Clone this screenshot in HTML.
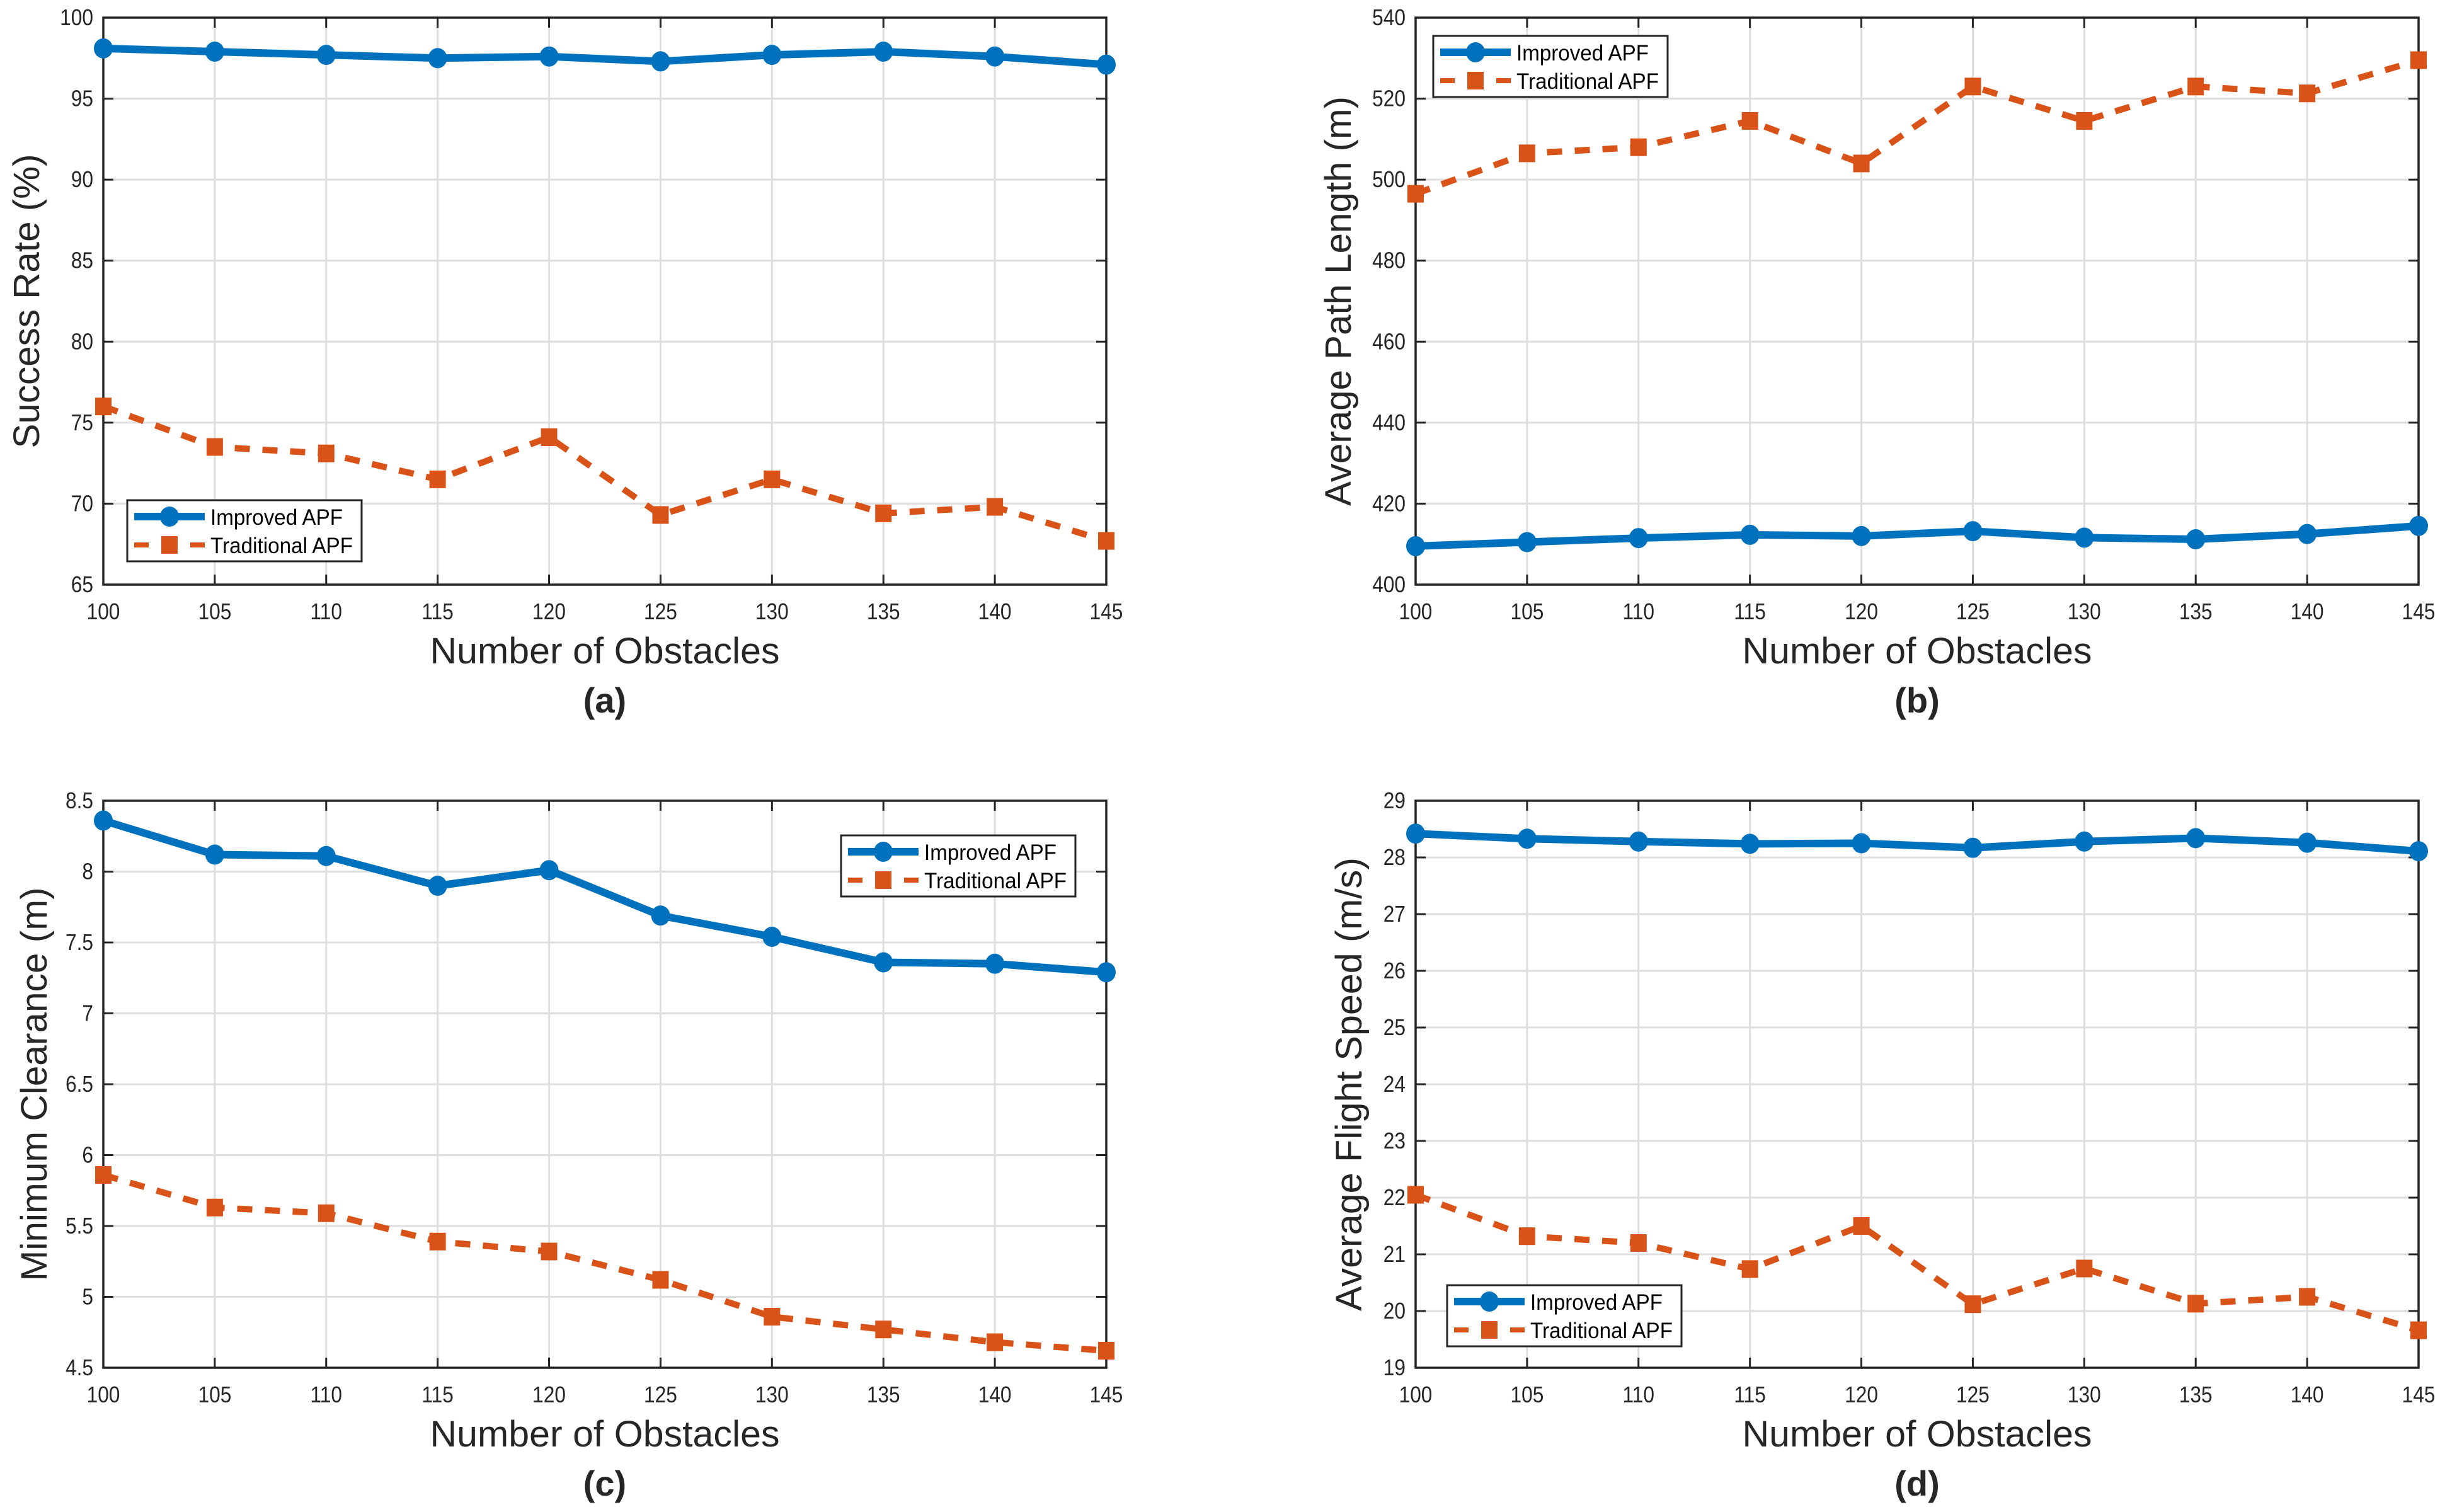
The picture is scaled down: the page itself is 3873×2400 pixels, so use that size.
<!DOCTYPE html>
<html><head><meta charset="utf-8"><style>
html,body{margin:0;padding:0;background:#fff;}
svg{display:block;}
text{font-family:"Liberation Sans",sans-serif;fill:#262626;}
</style></head><body>
<svg id="fig" width="3873" height="2400" viewBox="0 0 3873 2400" xmlns="http://www.w3.org/2000/svg"></svg>
<script>
const categories = [100,105,110,115,120,125,130,135,140,145];
const improvedA = [98.1,97.9,97.7,97.5,97.6,97.3,97.7,97.9,97.6,97.1];
const traditionalA = [76,73.5,73.1,71.5,74.1,69.3,71.5,69.4,69.8,67.7];
const improvedB = [409.5,410.5,411.5,412.3,412,413.2,411.6,411.2,412.5,414.5];
const traditionalB = [496.5,506.5,508,514.5,504,523,514.5,523,521.3,529.5];
const improvedC = [8.36,8.12,8.11,7.90,8.01,7.69,7.54,7.36,7.35,7.29];
const traditionalC = [5.86,5.63,5.59,5.39,5.32,5.12,4.86,4.77,4.68,4.62];
const improvedD = [28.42,28.33,28.28,28.24,28.25,28.17,28.28,28.34,28.26,28.11];
const traditionalD = [22.05,21.32,21.2,20.74,21.5,20.12,20.75,20.13,20.25,19.66];
const ticksA = [65,70,75,80,85,90,95,100];
const ticksB = [400,420,440,460,480,500,520,540];
const ticksC = [4.5,5,5.5,6,6.5,7,7.5,8,8.5];
const ticksD = [19,20,21,22,23,24,25,26,27,28,29];
const tickLabelsC = ["4.5","5","5.5","6","6.5","7","7.5","8","8.5"];
const seriesNames = ["Improved APF","Traditional APF"];

const NS="http://www.w3.org/2000/svg";
const svg=document.getElementById('fig');
function mk(tag,attrs,parent){const e=document.createElementNS(NS,tag);for(const k in attrs)e.setAttribute(k,attrs[k]);(parent||svg).appendChild(e);return e;}

const BLUE="#0072BD", ORANGE="#D95319";

function panel(cfg){
  const g=mk('g',{});
  
  
  const L=cfg.x0,R=cfg.x0+1592,T=cfg.y0,B=cfg.y0+900;
  const xs=v=>L+(v-100)/45*(R-L);
  const ys=v=>B-(v-cfg.ymin)/(cfg.ymax-cfg.ymin)*(B-T);
  categories.forEach(c=>{const l=mk('line',{x1:xs(c),x2:xs(c),y1:T,y2:B,stroke:'#dedede','stroke-width':3},g);
    });
  cfg.ticks.forEach(t=>{const l=mk('line',{x1:L,x2:R,y1:ys(t),y2:ys(t),stroke:'#dedede','stroke-width':3},g);
    });
  categories.forEach(c=>{
    mk('line',{x1:xs(c),x2:xs(c),y1:B,y2:B-16,stroke:'#262626','stroke-width':3},g);
    mk('line',{x1:xs(c),x2:xs(c),y1:T,y2:T+16,stroke:'#262626','stroke-width':3},g);
    const t=mk('text',{transform:`translate(${xs(c)},${B+55}) scale(0.88,1)`,'font-size':36,'text-anchor':'middle'},g);
    t.textContent=c;
    
  });
  cfg.ticks.forEach((v,i)=>{
    mk('line',{x1:L,x2:L+16,y1:ys(v),y2:ys(v),stroke:'#262626','stroke-width':3},g);
    mk('line',{x1:R,x2:R-16,y1:ys(v),y2:ys(v),stroke:'#262626','stroke-width':3},g);
    const t=mk('text',{transform:`translate(${L-16},${ys(v)+12}) scale(0.88,1)`,'font-size':36,'text-anchor':'end'},g);
    t.textContent=cfg.labels?cfg.labels[i]:v;
    
  });
  const box=mk('rect',{x:L,y:T,width:R-L,height:B-T,fill:'none',stroke:'#262626','stroke-width':3.5},g);
  
  const ptsO=cfg.trad.map((v,i)=>xs(categories[i])+','+ys(v)).join(' ');
  const lo=mk('polyline',{points:ptsO,fill:'none',stroke:ORANGE,'stroke-width':10,'stroke-dasharray':'24 20'},g);
  
  cfg.trad.forEach((v,i)=>{const r=mk('rect',{x:xs(categories[i])-13,y:ys(v)-14,width:26,height:28,fill:ORANGE},g);
    });
  const ptsB=cfg.imp.map((v,i)=>xs(categories[i])+','+ys(v)).join(' ');
  const lb=mk('polyline',{points:ptsB,fill:'none',stroke:BLUE,'stroke-width':12,'stroke-linejoin':'round'},g);
  
  cfg.imp.forEach((v,i)=>{const c=mk('ellipse',{cx:xs(categories[i]),cy:ys(v),rx:15,ry:16,fill:BLUE},g);
    });
  const xl=mk('text',{x:(L+R)/2,y:B+125,'font-size':58,'text-anchor':'middle',textLength:555,lengthAdjust:'spacingAndGlyphs'},g);
  xl.textContent='Number of Obstacles';
  
  const cap=mk('text',{x:(L+R)/2,y:B+203,'font-size':56,'font-weight':'bold','text-anchor':'middle'},g);
  cap.textContent=cfg.cap;
  
  const yc=(T+B)/2;
  const yl=mk('text',{transform:`translate(${L-cfg.yoff},${yc}) rotate(-90)`,x:0,y:0,'font-size':58,'text-anchor':'middle',textLength:cfg.ylen,lengthAdjust:'spacingAndGlyphs'},g);
  yl.textContent=cfg.ylabel;
  
  const lg=mk('g',{transform:`translate(${cfg.lx},${cfg.ly})`},g);
  
  mk('rect',{x:0,y:0,width:372,height:97,fill:'#fff',stroke:'#262626','stroke-width':3},lg);
  mk('line',{x1:11,x2:123,y1:26,y2:26,stroke:BLUE,'stroke-width':12},lg);
  mk('ellipse',{cx:67,cy:26,rx:15,ry:16,fill:BLUE},lg);
  mk('line',{x1:11,x2:34,y1:71,y2:71,stroke:ORANGE,'stroke-width':8},lg);
  mk('line',{x1:100,x2:123,y1:71,y2:71,stroke:ORANGE,'stroke-width':8},lg);
  mk('rect',{x:54,y:57,width:26,height:28,fill:ORANGE},lg);
  const t1=mk('text',{x:132,y:39,'font-size':35,textLength:210,lengthAdjust:'spacingAndGlyphs',style:'fill:#000'},lg);
  t1.textContent=seriesNames[0];
  
  const t2=mk('text',{x:132,y:84,'font-size':35,textLength:226,lengthAdjust:'spacingAndGlyphs',style:'fill:#000'},lg);
  t2.textContent=seriesNames[1];
  
}

panel({id:'a',x0:164,y0:28,ymin:65,ymax:100,ticks:ticksA,imp:improvedA,trad:traditionalA,cap:'(a)',ylabel:'Success Rate (%)',yoff:102,ylen:467,lx:202,ly:794});
panel({id:'b',x0:2247,y0:28,ymin:400,ymax:540,ticks:ticksB,imp:improvedB,trad:traditionalB,cap:'(b)',ylabel:'Average Path Length (m)',yoff:103,ylen:650,lx:2275,ly:57});
panel({id:'c',x0:164,y0:1271,ymin:4.5,ymax:8.5,ticks:ticksC,labels:tickLabelsC,imp:improvedC,trad:traditionalC,cap:'(c)',ylabel:'Minimum Clearance (m)',yoff:90,ylen:625,lx:1335,ly:1326});
panel({id:'d',x0:2247,y0:1271,ymin:19,ymax:29,ticks:ticksD,imp:improvedD,trad:traditionalD,cap:'(d)',ylabel:'Average Flight Speed (m/s)',yoff:86,ylen:720,lx:2297,ly:2040});
</script>
</body></html>
